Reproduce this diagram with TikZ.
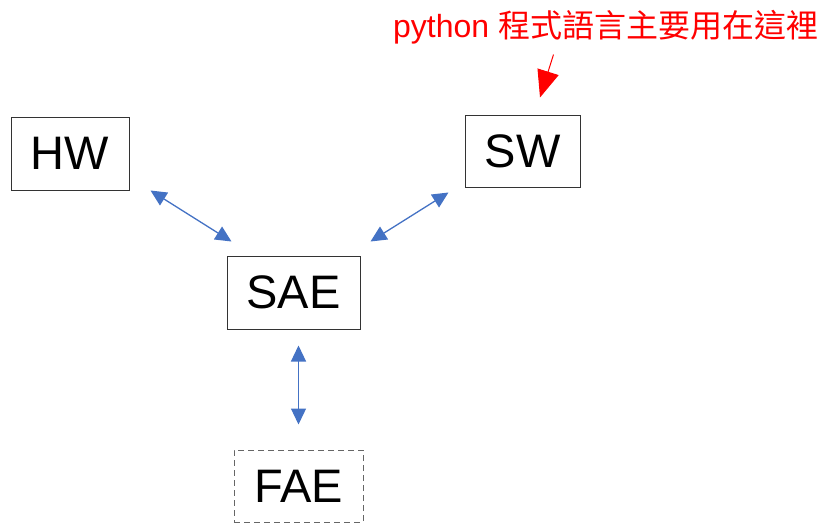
\documentclass[tikz,border=0pt]{standalone}
\usepackage{fontspec}
\setmainfont{Liberation Sans}
\newfontfamily\cjk{Noto Sans CJK TC}
\usetikzlibrary{calc,arrows.meta}
\definecolor{linkblue}{HTML}{4472C4}

\begin{document}
\begin{tikzpicture}[x=1pt,y=-1pt,
		box/.style={draw=black!80,line width=1pt,inner sep=0pt,font=\fontsize{47}{47}\selectfont},
		link/.style={{Triangle[length=16pt,width=15pt]}-{Triangle[length=16pt,width=15pt]},linkblue,line width=1.3pt},
		pointer/.style={-{Triangle[length=27pt,width=22pt]},red,line width=1pt}]
			\useasboundingbox (0,0) rectangle (818,523);

			\node[box,minimum width=118pt,minimum height=73pt] (HW) at (70,153.5) {HW};
			\node[box,minimum width=115pt,minimum height=72pt] (SW) at (522.5,151) {SW};
			\node[box,minimum width=133pt,minimum height=73pt] (SAE) at (293.5,292.5) {SAE};
			\node[box,draw=black!60,dash pattern=on 6pt off 4pt,minimum width=129pt,minimum height=72pt] (FAE) at (298.5,486) {FAE};

			\draw[link] ($(HW.south east)+(21,0)$) -- ($(SAE.north west)+(5,-14)$);
			\draw[link] ($(SW.south west)+(-16,5)$) -- ($(SAE.north east)+(10,-14)$);
			\draw[link] ($(SAE.south)+(5,16)$) -- ($(FAE.north)+(0,-25)$);

			\node[anchor=base west,inner sep=0pt,red,font=\fontsize{32}{32}\selectfont] (note) at (393,37) {python {\cjk 程式語言主要用在這裡}};
			\draw[pointer] ($(SW.north)+(31,-60)$) -- ($(SW.north)+(17.5,-17)$);
		\end{tikzpicture}
\end{document}
